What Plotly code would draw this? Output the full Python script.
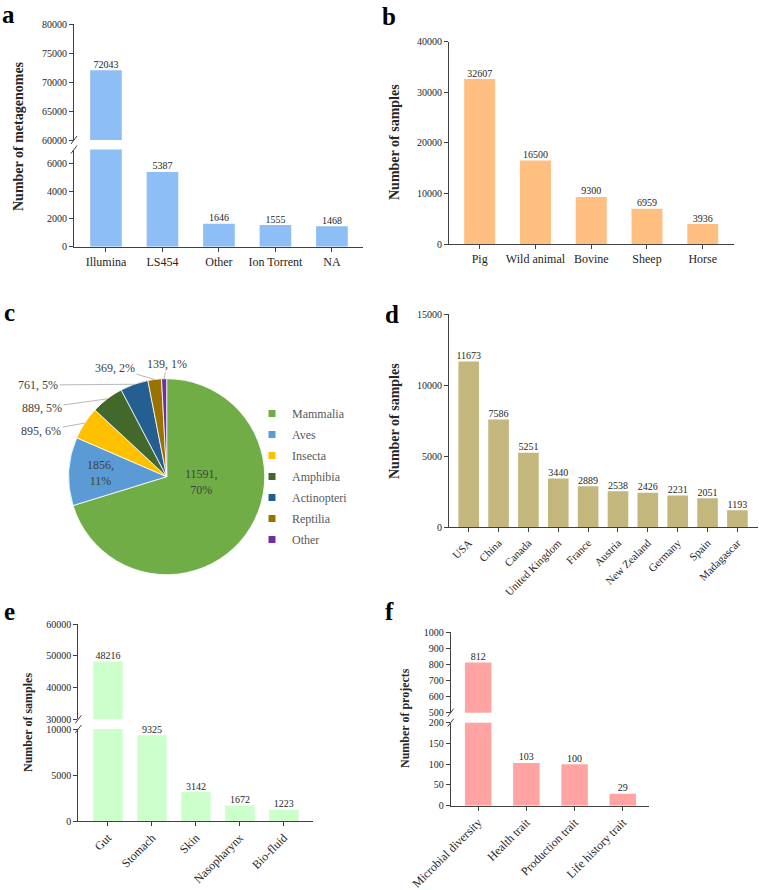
import math
import plotly.graph_objects as go

W, H = 759, 890
FONT = "Liberation Serif, Times New Roman, serif"
TXT = "#262626"
AX = "#404040"

# ---------------- data ----------------
platforms = ["Illumina", "LS454", "Other", "Ion Torrent", "NA"]
platform_counts = [72043, 5387, 1646, 1555, 1468]

hosts = ["Pig", "Wild animal", "Bovine", "Sheep", "Horse"]
host_counts = [32607, 16500, 9300, 6959, 3936]

classes = ["Mammalia", "Aves", "Insecta", "Amphibia", "Actinopteri", "Reptilia", "Other"]
class_counts = [11591, 1856, 895, 889, 761, 369, 139]
class_pct = [70, 11, 6, 5, 5, 2, 1]
class_colors = ["#70AD47", "#5B9BD5", "#FFC000", "#43682B", "#255E91", "#997300", "#7030A0"]

countries = ["USA", "China", "Canada", "United Kingdom", "France", "Austria",
             "New Zealand", "Germany", "Spain", "Madagascar"]
country_counts = [11673, 7586, 5251, 3440, 2889, 2538, 2426, 2231, 2051, 1193]

sites = ["Gut", "Stomach", "Skin", "Nasopharynx", "Bio-fluid"]
site_counts = [48216, 9325, 3142, 1672, 1223]

traits = ["Microbial diversity", "Health trait", "Production trait", "Life history trait"]
trait_counts = [812, 103, 100, 29]


# page-pixel -> paper helpers
def px(x):
    return x / W


def py(y):
    return 1 - y / H


def xd(l, r):
    return [px(l), px(r)]


def yd(top, bottom):
    return [py(bottom), py(top)]


fig = go.Figure()


def add_bars(cats, vals, color, width, xa, ya_list):
    """ya_list: list of (axis id, lo, hi) segments"""
    for ya, lo, hi in ya_list:
        fig.add_trace(go.Bar(x=cats, y=vals, marker=dict(color=color, line=dict(width=0)),
                             width=width, xaxis=xa, yaxis=ya, showlegend=False,
                             hoverinfo="x+y"))
        sel = [(c, v) for c, v in zip(cats, vals) if lo <= v <= hi]
        if sel:
            fig.add_trace(go.Scatter(x=[s[0] for s in sel], y=[s[1] for s in sel],
                                     text=[str(s[1]) for s in sel], mode="text",
                                     textposition="top center",
                                     textfont=dict(family=FONT, size=10, color=TXT),
                                     cliponaxis=False, xaxis=xa, yaxis=ya,
                                     showlegend=False, hoverinfo="skip"))


add_bars(platforms, platform_counts, "#8EBEF6", 0.56, "x", [("y", 0, 7000), ("y2", 60000, 80000)])
add_bars(hosts, host_counts, "#FFBF80", 0.555, "x2", [("y3", 0, 40000)])
add_bars(countries, country_counts, "#C3B77D", 0.69, "x3", [("y4", 0, 15000)])
add_bars(sites, site_counts, "#CCFFCC", 0.67, "x4", [("y5", 0, 10000), ("y6", 30000, 60000)])
add_bars(traits, trait_counts, "#FFA3A3", 0.55, "x5", [("y7", 0, 200), ("y8", 500, 1000)])

# ---------------- pie ----------------
PCX, PCY, PR = 166.7, 476.7, 98.0
fig.add_trace(go.Pie(labels=classes, values=class_counts, sort=False, direction="clockwise",
                     rotation=0, marker=dict(colors=class_colors, line=dict(color="white", width=0.8)),
                     textinfo="none",
                     domain=dict(x=xd(PCX - PR, PCX + PR), y=yd(PCY - PR, PCY + PR)),
                     showlegend=False, hoverinfo="label+value"))

# legend entries for the pie classes (small square keys)
for name, col in zip(classes, class_colors):
    fig.add_trace(go.Scatter(x=[None], y=[None], mode="markers", name=name,
                             legendgroup=name, xaxis="x", yaxis="y",
                             marker=dict(symbol="square", size=7, color=col),
                             showlegend=True, hoverinfo="skip"))

annotations = []
PIE_FONT = dict(family=FONT, size=12, color="#404040")
# inside labels (placement in page pixels)
inside_pos = {0: (202, 482), 1: (100, 473)}
for i, (lx, ly) in inside_pos.items():
    annotations.append(dict(x=px(lx), y=py(ly), xref="paper", yref="paper",
                            xanchor="center", yanchor="middle",
                            text=f"{class_counts[i]},<br>{class_pct[i]}%", showarrow=False,
                            font=PIE_FONT))
# outside labels with leader lines
label_pos = {2: (41, 431), 3: (42, 408), 4: (38, 385), 5: (115, 368), 6: (167, 364)}
total = sum(class_counts)
cum = 0
for i, v in enumerate(class_counts):
    mid = (cum + v / 2) / total * 2 * math.pi
    cum += v
    if i in label_pos:
        ex = PCX + PR * math.sin(mid)
        ey = PCY - PR * math.cos(mid)
        lx, ly = label_pos[i]
        annotations.append(dict(x=px(ex), y=py(ey), xref="paper", yref="paper",
                                text=f"{v}, {class_pct[i]}%", showarrow=True, arrowhead=0,
                                arrowwidth=0.8, arrowcolor="#A6A6A6", standoff=0,
                                ax=lx - ex, ay=ly - ey, font=PIE_FONT))

# panel letters (baseline positions)
for letter, lx, ly in [("a", 0, 20), ("b", 380, 22), ("c", 2, 318),
                       ("d", 383, 320), ("e", 2, 617), ("f", 383, 617)]:
    annotations.append(dict(x=px(lx), y=py(ly), xref="paper", yref="paper",
                            xanchor="left", yanchor="bottom", yshift=-10,
                            text=f"<b>{letter}</b>", showarrow=False,
                            font=dict(family=FONT, size=25, color="black")))

# y-axis titles
for title, tx, ty, fs in [("Number of metagenomes", 19, 136, 14),
                          ("Number of samples", 394, 142, 14),
                          ("Number of samples", 394, 421, 14),
                          ("Number of samples", 28, 723, 12),
                          ("Number of projects", 405, 718, 12)]:
    annotations.append(dict(x=px(tx), y=py(ty), xref="paper", yref="paper",
                            xanchor="center", yanchor="middle", textangle=-90,
                            text=f"<b>{title}</b>", showarrow=False,
                            font=dict(family=FONT, size=fs, color=TXT)))

# axis break marks
shapes = []
for axx, top_y, bot_y in [(74, 140, 149.5), (78.3, 719.3, 729), (450.7, 712.7, 722.7)]:
    for yy in (top_y, bot_y):
        shapes.append(dict(type="line", xref="paper", yref="paper",
                           x0=px(axx - 3), y0=py(yy + 4), x1=px(axx + 3), y1=py(yy - 4),
                           line=dict(color=AX, width=1)))

common_ax = dict(showline=True, linecolor=AX, linewidth=1, ticks="outside", ticklen=4,
                 tickcolor=AX, showgrid=False, zeroline=False, fixedrange=True,
                 automargin=False, tickfont=dict(family=FONT, size=10, color=TXT))


def xax(domain, rng, anchor, angle=0, size=12):
    d = dict(common_ax)
    d.update(domain=domain, range=rng, anchor=anchor, type="category",
             tickangle=angle, tickfont=dict(family=FONT, size=size, color=TXT))
    return d


def yax(domain, rng, anchor, dtick):
    d = dict(common_ax)
    d.update(domain=domain, range=rng, anchor=anchor, dtick=dtick, tick0=0,
             tickformat="d")
    return d


fig.update_layout(
    template="none",
    width=W, height=H, margin=dict(l=0, r=0, t=0, b=0, autoexpand=False),
    paper_bgcolor="white", plot_bgcolor="rgba(0,0,0,0)",
    font=dict(family=FONT, color=TXT),
    xaxis=xax(xd(74, 363), [-0.566, 4.55], "y"),
    yaxis=yax(yd(149.5, 246.7), [0, 7000], "x", 2000),
    yaxis2=yax(yd(24.3, 140), [60000, 80000], "x", 5000),
    xaxis2=xax(xd(449, 734), [-0.55, 4.56], "y3"),
    yaxis3=yax(yd(41.7, 244), [0, 40000], "x2", 10000),
    xaxis3=xax(xd(449, 758), [-0.66, 9.69], "y4", angle=-45, size=11),
    yaxis4=yax(yd(314.3, 527.3), [0, 15000], "x3", 5000),
    xaxis4=xax(xd(78.3, 313.3), [-0.675, 4.67], "y5", angle=-45, size=12),
    yaxis5=yax(yd(729, 821), [0, 10000], "x4", 5000),
    yaxis6=yax(yd(624, 719.3), [30000, 60000], "x4", 10000),
    xaxis5=xax(xd(450.7, 649.3), [-0.57, 3.55], "y7", angle=-45, size=12),
    yaxis7=yax(yd(722.7, 805.7), [0, 200], "x5", 50),
    yaxis8=yax(yd(632.3, 712.7), [500, 1000], "x5", 100),
    legend=dict(x=px(252), y=py(399), xanchor="left", yanchor="top",
                font=dict(family=FONT, size=12, color="#595959"),
                bgcolor="rgba(0,0,0,0)", tracegroupgap=2, traceorder="grouped"),
    annotations=annotations, shapes=shapes,
)

# remove the default 8px page margin so the figure fills the window
fig.write_html("out.html", config={"displayModeBar": False},
               post_script="document.body.style.margin='0';")
